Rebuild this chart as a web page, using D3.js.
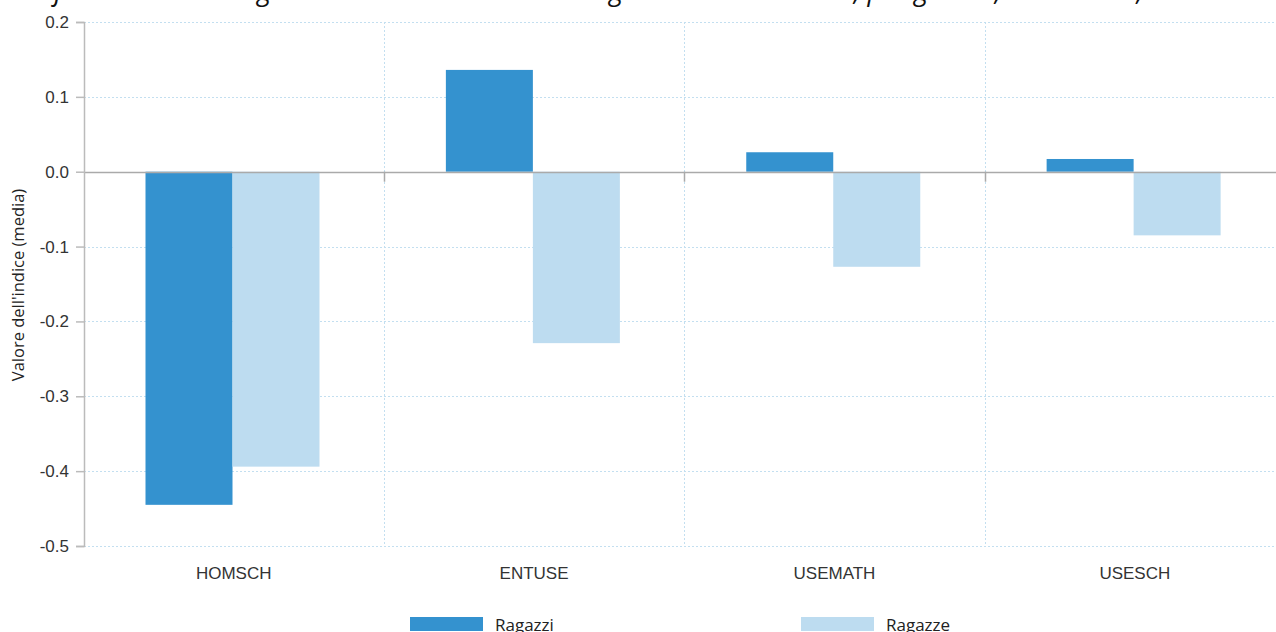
<!DOCTYPE html>
<html>
<head>
<meta charset="utf-8">
<script src="https://cdn.jsdelivr.net/npm/d3@7"></script>
<style>
  body { margin: 0; background: #fff; overflow: hidden; }
  svg { display: block; font-family: "Open Sans", "Noto Sans", sans-serif; }
  .tick text { fill: #333; font-size: 17px; }
</style>
</head>
<body>
<script>
//chart data
var categories = ["HOMSCH", "ENTUSE", "USEMATH", "USESCH"];
var seriesNames = ["Ragazzi", "Ragazze"];
var ragazzi = [-0.445, 0.136, 0.026, 0.017];
var ragazze = [-0.394, -0.229, -0.127, -0.085];
var yTicks = [0.2, 0.1, 0.0, -0.1, -0.2, -0.3, -0.4, -0.5];
var colors = ["#3492cf", "#bddcf0"];
var titleText = "Grafico 5.2 Media degli indici sull'uso delle tecnologie a casa e a scuola, per genere, anno 2015, Italia";

(function (){
    var width = 1276, height = 632;

    var svg = d3.select("body").append("svg")
        .attr("width", width)
        .attr("height", height);

    //scales
    var x = d3.scaleBand()
        .domain(categories)
        .range([83.5, 1285]);

    var xInner = d3.scaleBand()
        .domain(seriesNames)
        .range([62, 236]);

    var y = d3.scaleLinear()
        .domain([-0.5, 0.2])
        .range([546, 22]);

    //title (cut off at top, as in the original)
    svg.append("text")
        .attr("x", 10)
        .attr("y", 0)
        .style("font-size", "27px")
        .style("font-style", "italic")
        .style("fill", "#111")
        .text(titleText);

    //horizontal dotted grid
    svg.append("g").selectAll("line")
        .data(yTicks.filter(function(d){ return d !== 0; }))
        .enter().append("line")
        .attr("x1", 84).attr("x2", width)
        .attr("y1", function(d){ return Math.round(y(d)) + 0.5; })
        .attr("y2", function(d){ return Math.round(y(d)) + 0.5; })
        .style("stroke", "#c3dff0")
        .style("stroke-dasharray", "2,2");

    //vertical dotted grid at band boundaries
    var bounds = categories.slice(1).map(function(c){ return x(c); });
    svg.append("g").selectAll("line")
        .data(bounds)
        .enter().append("line")
        .attr("x1", function(d){ return Math.round(d) + 0.5; })
        .attr("x2", function(d){ return Math.round(d) + 0.5; })
        .attr("y1", 22).attr("y2", 546)
        .style("stroke", "#c3dff0")
        .style("stroke-dasharray", "2,2");

    //bars
    var rows = categories.map(function(c, i){
        return { cat: c, vals: [ragazzi[i], ragazze[i]] };
    });

    var groups = svg.append("g").selectAll("g")
        .data(rows)
        .enter().append("g")
        .attr("transform", function(d){ return "translate(" + x(d.cat) + ",0)"; });

    groups.selectAll("rect")
        .data(function(d){
            return d.vals.map(function(v, j){ return { name: seriesNames[j], value: v, idx: j }; });
        })
        .enter().append("rect")
        .attr("x", function(d){ return xInner(d.name); })
        .attr("width", xInner.bandwidth())
        .attr("y", function(d){ return y(Math.max(0, d.value)); })
        .attr("height", function(d){ return Math.abs(y(d.value) - y(0)); })
        .style("fill", function(d){ return colors[d.idx]; });

    //zero line with band ticks
    svg.append("line")
        .attr("x1", 84).attr("x2", width)
        .attr("y1", Math.round(y(0)) + 0.5).attr("y2", Math.round(y(0)) + 0.5)
        .style("stroke", "#aaa")
        .style("stroke-width", 1.5);

    svg.append("g").selectAll("line")
        .data(bounds)
        .enter().append("line")
        .attr("x1", function(d){ return Math.round(d) + 0.5; })
        .attr("x2", function(d){ return Math.round(d) + 0.5; })
        .attr("y1", y(0)).attr("y2", y(0) + 10)
        .style("stroke", "#aaa")
        .style("stroke-width", 1.5);

    //y axis
    var yAxis = d3.axisLeft(y)
        .tickValues(yTicks)
        .tickSize(8)
        .tickPadding(7)
        .tickFormat(d3.format(".1f"));

    var gy = svg.append("g")
        .attr("transform", "translate(84,0)")
        .call(yAxis);
    gy.select(".domain").style("stroke", "#bbb").style("stroke-width", 1.5);
    gy.selectAll(".tick line").style("stroke", "#bbb").style("stroke-width", 1.5);
    gy.selectAll(".tick text").text(function(d){ return d3.format(".1f")(d).replace("−", "-"); });

    //x axis labels
    var xAxis = d3.axisBottom(x).tickSize(0).tickPadding(21);
    var gx = svg.append("g")
        .attr("transform", "translate(0,546)")
        .call(xAxis);
    gx.select(".domain").remove();

    //y axis title
    svg.append("text")
        .attr("transform", "translate(24,285) rotate(-90)")
        .attr("text-anchor", "middle")
        .style("font-size", "16.5px")
        .style("fill", "#222")
        .text("Valore dell'indice (media)");

    //legend
    var legendX = d3.scaleOrdinal()
        .domain(seriesNames)
        .range([410, 801]);

    var legend = svg.append("g").selectAll("g")
        .data(seriesNames)
        .enter().append("g")
        .attr("transform", function(d){ return "translate(" + legendX(d) + ",617)"; });

    legend.append("rect")
        .attr("width", 73).attr("height", 14)
        .style("fill", function(d, i){ return colors[i]; });

    legend.append("text")
        .attr("x", 85).attr("y", 14)
        .style("font-size", "17px")
        .style("fill", "#222")
        .text(function(d){ return d; });
})();
</script>
</body>
</html>
